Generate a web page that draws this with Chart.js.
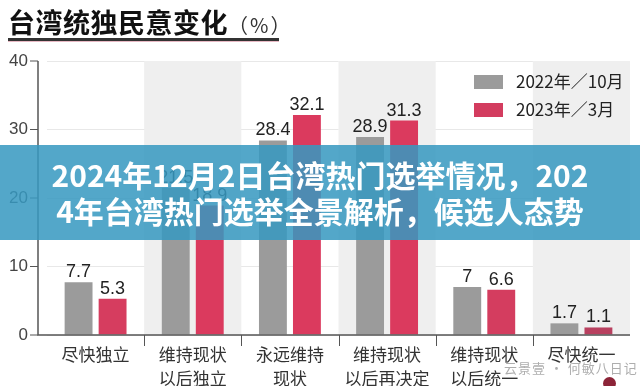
<!DOCTYPE html>
<html>
<head>
<meta charset="utf-8">
<script src="https://cdn.jsdelivr.net/npm/chart.js@4"></script>
<style>
    html, body { margin: 0; padding: 0; background: #fff; }
    #wrap { position: relative; width: 640px; height: 386px; overflow: hidden; font-family: "Noto Sans CJK SC", sans-serif; }
    #chart { position: absolute; left: 0; top: 0; }
    .title { position: absolute; left: 8px; top: 2px; font-size: 27px; font-weight: 700; color: #111; letter-spacing: 0.5px; white-space: nowrap; }
    .title span { font-size: 20px; font-weight: 400; color: #333; letter-spacing: 2px; }
    .rule1 { position: absolute; left: 8px; top: 38px; width: 271px; height: 3px; background: #333; }
    .rule2 { position: absolute; left: 8px; top: 41px; width: 271px; height: 1px; background: #e8b9c4; }
    .legend { position: absolute; left: 474px; font-size: 17px; color: #222; white-space: nowrap; }
    .legend i { display: inline-block; width: 29px; height: 14px; margin-right: 13px; vertical-align: -1px; }
    .banner { position: absolute; left: 0; top: 145px; width: 640px; height: 95px; background: rgba(55, 152, 192, 0.86);
              color: #fff; font-weight: 700; font-size: 30px; line-height: 36px; text-align: center;
              box-sizing: border-box; padding-top: 11px; white-space: nowrap; }
    .mark { position: absolute; left: 504px; top: 358px; font-size: 13px; color: rgba(140,140,140,0.7); letter-spacing: 1px; }
    .dot { position: absolute; left: 603px; top: 377px; width: 13px; height: 13px; border-radius: 50%; background: #8c2438; }
</style>
</head>
<body>
<div id="wrap">
    <canvas id="chart" width="640" height="386"></canvas>
    <div class="title">台湾统独民意变化<span>（%）</span></div>
    <div class="rule1"></div>
    <div class="rule2"></div>
    <div class="legend" style="top:68px"><i style="background:#9b9b9b"></i>2022年／10月</div>
    <div class="legend" style="top:96px"><i style="background:#d33c5f"></i>2023年／3月</div>
    <div class="banner">2024年12月2日台湾热门选举情况，202<br>4年台湾热门选举全景解析，候选人态势</div>
    <div class="mark">云景壹 · 何敏八日记</div>
    <div class="dot"></div>
</div>
<script>
const categories = [
    ['尽快独立'],
    ['维持现状', '以后独立'],
    ['永远维持', '现状'],
    ['维持现状', '以后再决定'],
    ['维持现状', '以后统一'],
    ['尽快统一']
];
const series2022 = [7.7, 21.5, 28.4, 28.9, 7, 1.7];
const series2023 = [5.3, 18.9, 32.1, 31.3, 6.6, 1.1];
const yTicks = [0, 10, 20, 30, 40];

const AXIS_X = 38;

// alternating grey bands behind categories 2, 4, 6
const bandPlugin = {
    id: 'bands',
    beforeDatasetsDraw(chart) {
        const { ctx, chartArea, scales: { x } } = chart;
        const w = (chartArea.right - chartArea.left) / categories.length;
        ctx.save();
        ctx.fillStyle = '#efefef';
        categories.forEach((c, i) => {
            if (i % 2 === 1) {
                const cx = x.getPixelForValue(i);
                ctx.fillRect(cx - w / 2, chartArea.top, w, chartArea.bottom - chartArea.top);
            }
        });
        ctx.restore();
    }
};

// axes lines, tick marks and value labels
const axesPlugin = {
    id: 'axesAndLabels',
    afterDatasetsDraw(chart) {
        const { ctx, chartArea, scales: { x, y } } = chart;
        ctx.save();
        ctx.strokeStyle = '#555';
        ctx.lineWidth = 1.5;
        ctx.beginPath();
        ctx.moveTo(AXIS_X, y.getPixelForValue(40));
        ctx.lineTo(AXIS_X, y.getPixelForValue(0));
        ctx.lineTo(chartArea.right, y.getPixelForValue(0));
        ctx.stroke();
        ctx.lineWidth = 1;
        yTicks.forEach(v => {
            const py = y.getPixelForValue(v);
            ctx.beginPath();
            ctx.moveTo(AXIS_X - 8, py);
            ctx.lineTo(AXIS_X, py);
            ctx.stroke();
        });
        const w = (chartArea.right - chartArea.left) / categories.length;
        for (let i = 0; i < categories.length - 1; i++) {
            const px = Math.round(x.getPixelForValue(i) + w / 2) + 0.5;
            ctx.beginPath();
            ctx.moveTo(px, chartArea.bottom);
            ctx.lineTo(px, chartArea.bottom + 11);
            ctx.stroke();
        }
        ctx.fillStyle = '#222';
        ctx.font = '18px "Liberation Sans", Arial, sans-serif';
        ctx.textAlign = 'center';
        ctx.textBaseline = 'bottom';
        chart.data.datasets.forEach((ds, di) => {
            chart.getDatasetMeta(di).data.forEach((bar, i) => {
                ctx.fillText(String(ds.data[i]), bar.x, bar.y - 1);
            });
        });
        ctx.restore();
    }
};

new Chart(document.getElementById('chart'), {
    type: 'bar',
    data: {
        labels: categories,
        datasets: [
            { label: '2022年／10月', data: series2022, backgroundColor: '#9b9b9b' },
            {
                label: '2023年／3月', data: series2023,
                backgroundColor: ['#d63d5f', '#db3a5e', '#db3a5e', '#db3a5e', '#d43d5f', '#b8405f']
            }
        ]
    },
    options: {
        responsive: false,
        animation: false,
        events: [],
        layout: { padding: { top: 61, right: 10, left: 0, bottom: 0 } },
        datasets: { bar: { categoryPercentage: 0.70, barPercentage: 0.82 } },
        plugins: { legend: { display: false }, tooltip: { enabled: false } },
        scales: {
            x: {
                grid: { display: false },
                border: { display: false },
                ticks: {
                    color: '#333',
                    font: { family: '"Noto Sans CJK SC", sans-serif', size: 17, lineHeight: 1.4 },
                    padding: 0,
                    maxRotation: 0,
                    autoSkip: false
                },
                afterFit(scale) { scale.height = 51; }
            },
            y: {
                min: 0,
                max: 40,
                afterBuildTicks(scale) { scale.ticks = yTicks.map(v => ({ value: v })); },
                grid: { color: '#e8e8e8', drawTicks: false },
                border: { display: false },
                ticks: {
                    color: '#444',
                    font: { family: '"Liberation Sans", Arial, sans-serif', size: 17 },
                    padding: 19
                },
                afterFit(scale) { scale.width = 47; }
            }
        }
    },
    plugins: [bandPlugin, axesPlugin]
});
</script>
</body>
</html>
